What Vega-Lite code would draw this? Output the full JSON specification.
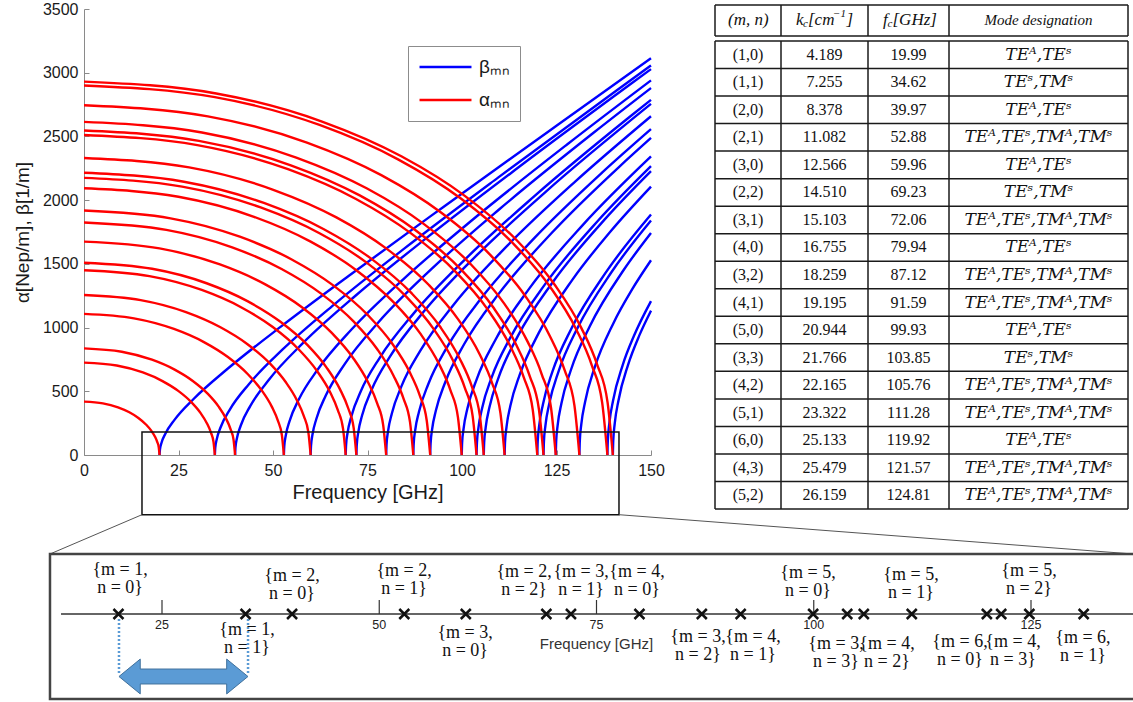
{
  "$schema": "https://vega.github.io/schema/vega-lite/v6.json",
  "width": 567,
  "height": 446,
  "autosize": {"type": "none"},
  "padding": {"left": 84, "top": 9, "right": 482, "bottom": 247},
  "background": "white",
  "config": {
    "view": {"stroke": null},
    "font": "Liberation Sans",
    "axis": {"labelFont": "Liberation Sans", "titleFont": "Liberation Sans", "labelFontSize": 16, "titleFontWeight": "normal", "labelColor": "#1a1a1a", "titleColor": "#1a1a1a", "domainColor": "#8a8a8a", "tickColor": "#8a8a8a", "grid": false, "labelFlush": false, "labelOverlap": false, "tickSize": -5, "format": "d"},
    "axisX": {"labelPadding": 12, "titleFontSize": 20, "titlePadding": 4},
    "axisY": {"labelPadding": 11, "titleFontSize": 19, "titlePadding": 10}
  },
  "datasets": {
    "curves": [
      {"m":"A","k":"b","f":19.99,"v":0},{"m":"A","k":"b","f":20.09,"v":41.9},{"m":"A","k":"b","f":20.49,"v":94.2},{"m":"A","k":"b","f":21.49,"v":165.2},{"m":"A","k":"b","f":23.99,"v":277.8},{"m":"A","k":"b","f":28.99,"v":439.7},{"m":"A","k":"b","f":37.99,"v":676.6},{"m":"A","k":"b","f":51.99,"v":1005.2},{"m":"A","k":"b","f":69.99,"v":1404.8},{"m":"A","k":"b","f":94.99,"v":1944.9},{"m":"A","k":"b","f":124.99,"v":2584.1},{"m":"A","k":"b","f":150,"v":3113.5},
      {"m":"B","k":"b","f":34.62,"v":0},{"m":"B","k":"b","f":34.72,"v":55.2},{"m":"B","k":"b","f":35.12,"v":123.7},{"m":"B","k":"b","f":36.12,"v":215.7},{"m":"B","k":"b","f":38.62,"v":358.5},{"m":"B","k":"b","f":43.62,"v":555.8},{"m":"B","k":"b","f":52.62,"v":830.0},{"m":"B","k":"b","f":66.62,"v":1192.1},{"m":"B","k":"b","f":84.62,"v":1617.2},{"m":"B","k":"b","f":109.62,"v":2178.4},{"m":"B","k":"b","f":139.62,"v":2832.9},{"m":"B","k":"b","f":150,"v":3056.8},
      {"m":"C","k":"b","f":39.97,"v":0},{"m":"C","k":"b","f":40.07,"v":59.3},{"m":"C","k":"b","f":40.47,"v":132.8},{"m":"C","k":"b","f":41.47,"v":231.5},{"m":"C","k":"b","f":43.97,"v":383.8},{"m":"C","k":"b","f":48.97,"v":592.6},{"m":"C","k":"b","f":57.97,"v":879.4},{"m":"C","k":"b","f":71.97,"v":1253.5},{"m":"C","k":"b","f":89.97,"v":1688.2},{"m":"C","k":"b","f":114.97,"v":2257.8},{"m":"C","k":"b","f":144.97,"v":2918.6},{"m":"C","k":"b","f":150,"v":3028.1},
      {"m":"D","k":"b","f":52.88,"v":0},{"m":"D","k":"b","f":52.98,"v":68.1},{"m":"D","k":"b","f":53.38,"v":152.7},{"m":"D","k":"b","f":54.38,"v":265.7},{"m":"D","k":"b","f":56.88,"v":438.8},{"m":"D","k":"b","f":61.88,"v":673.1},{"m":"D","k":"b","f":70.88,"v":988.5},{"m":"D","k":"b","f":84.88,"v":1390.6},{"m":"D","k":"b","f":102.88,"v":1848.3},{"m":"D","k":"b","f":127.88,"v":2438.6},{"m":"D","k":"b","f":150,"v":2939.9},
      {"m":"E","k":"b","f":59.96,"v":0},{"m":"E","k":"b","f":60.06,"v":72.6},{"m":"E","k":"b","f":60.46,"v":162.5},{"m":"E","k":"b","f":61.46,"v":282.7},{"m":"E","k":"b","f":63.96,"v":466.3},{"m":"E","k":"b","f":68.96,"v":713.4},{"m":"E","k":"b","f":77.96,"v":1043.6},{"m":"E","k":"b","f":91.96,"v":1460.3},{"m":"E","k":"b","f":109.96,"v":1930.5},{"m":"E","k":"b","f":134.96,"v":2532.3},{"m":"E","k":"b","f":150,"v":2879.6},
      {"m":"F","k":"b","f":69.23,"v":0},{"m":"F","k":"b","f":69.33,"v":78.0},{"m":"F","k":"b","f":69.73,"v":174.6},{"m":"F","k":"b","f":70.73,"v":303.5},{"m":"F","k":"b","f":73.23,"v":500.0},{"m":"F","k":"b","f":78.23,"v":763.0},{"m":"F","k":"b","f":87.23,"v":1111.5},{"m":"F","k":"b","f":101.23,"v":1546.8},{"m":"F","k":"b","f":119.23,"v":2033.1},{"m":"F","k":"b","f":144.23,"v":2650.1},{"m":"F","k":"b","f":150,"v":2787.0},
      {"m":"G","k":"b","f":72.06,"v":0},{"m":"G","k":"b","f":72.16,"v":79.5},{"m":"G","k":"b","f":72.56,"v":178.1},{"m":"G","k":"b","f":73.56,"v":309.5},{"m":"G","k":"b","f":76.06,"v":509.8},{"m":"G","k":"b","f":81.06,"v":777.5},{"m":"G","k":"b","f":90.06,"v":1131.4},{"m":"G","k":"b","f":104.06,"v":1572.3},{"m":"G","k":"b","f":122.06,"v":2063.4},{"m":"G","k":"b","f":150,"v":2755.4},
      {"m":"H","k":"b","f":79.94,"v":0},{"m":"H","k":"b","f":80.04,"v":83.8},{"m":"H","k":"b","f":80.44,"v":187.5},{"m":"H","k":"b","f":81.44,"v":325.9},{"m":"H","k":"b","f":83.94,"v":536.2},{"m":"H","k":"b","f":88.94,"v":816.5},{"m":"H","k":"b","f":97.94,"v":1185.1},{"m":"H","k":"b","f":111.94,"v":1641.2},{"m":"H","k":"b","f":129.94,"v":2145.5},{"m":"H","k":"b","f":150,"v":2658.3},
      {"m":"I","k":"b","f":87.12,"v":0},{"m":"I","k":"b","f":87.22,"v":87.4},{"m":"I","k":"b","f":87.62,"v":195.8},{"m":"I","k":"b","f":88.62,"v":340.1},{"m":"I","k":"b","f":91.12,"v":559.2},{"m":"I","k":"b","f":96.12,"v":850.5},{"m":"I","k":"b","f":105.12,"v":1232.0},{"m":"I","k":"b","f":119.12,"v":1701.5},{"m":"I","k":"b","f":137.12,"v":2217.7},{"m":"I","k":"b","f":150,"v":2557.4},
      {"m":"J","k":"b","f":91.59,"v":0},{"m":"J","k":"b","f":91.69,"v":89.7},{"m":"J","k":"b","f":92.09,"v":200.7},{"m":"J","k":"b","f":93.09,"v":348.6},{"m":"J","k":"b","f":95.59,"v":573.1},{"m":"J","k":"b","f":100.59,"v":871.0},{"m":"J","k":"b","f":109.59,"v":1260.3},{"m":"J","k":"b","f":123.59,"v":1738.0},{"m":"J","k":"b","f":141.59,"v":2261.5},{"m":"J","k":"b","f":150,"v":2488.0},
      {"m":"K","k":"b","f":99.93,"v":0},{"m":"K","k":"b","f":100.03,"v":93.7},{"m":"K","k":"b","f":100.43,"v":209.6},{"m":"K","k":"b","f":101.43,"v":364.0},{"m":"K","k":"b","f":103.93,"v":598.1},{"m":"K","k":"b","f":108.93,"v":908.1},{"m":"K","k":"b","f":117.93,"v":1311.6},{"m":"K","k":"b","f":131.93,"v":1804.0},{"m":"K","k":"b","f":150,"v":2343.0},
      {"m":"L","k":"b","f":103.85,"v":0},{"m":"L","k":"b","f":103.95,"v":95.5},{"m":"L","k":"b","f":104.35,"v":213.7},{"m":"L","k":"b","f":105.35,"v":371.0},{"m":"L","k":"b","f":107.85,"v":609.5},{"m":"L","k":"b","f":112.85,"v":924.9},{"m":"L","k":"b","f":121.85,"v":1334.9},{"m":"L","k":"b","f":135.85,"v":1834.3},{"m":"L","k":"b","f":150,"v":2267.0},
      {"m":"M","k":"b","f":105.76,"v":0},{"m":"M","k":"b","f":105.86,"v":96.3},{"m":"M","k":"b","f":106.26,"v":215.6},{"m":"M","k":"b","f":107.26,"v":374.4},{"m":"M","k":"b","f":109.76,"v":614.9},{"m":"M","k":"b","f":114.76,"v":933.1},{"m":"M","k":"b","f":123.76,"v":1346.2},{"m":"M","k":"b","f":137.76,"v":1848.8},{"m":"M","k":"b","f":150,"v":2227.8},
      {"m":"N","k":"b","f":111.28,"v":0},{"m":"N","k":"b","f":111.38,"v":98.8},{"m":"N","k":"b","f":111.78,"v":221.2},{"m":"N","k":"b","f":112.78,"v":384.0},{"m":"N","k":"b","f":115.28,"v":630.5},{"m":"N","k":"b","f":120.28,"v":956.1},{"m":"N","k":"b","f":129.28,"v":1378.2},{"m":"N","k":"b","f":139.28,"v":1754.3},{"m":"N","k":"b","f":150,"v":2106.6},
      {"m":"O","k":"b","f":119.92,"v":0},{"m":"O","k":"b","f":120.02,"v":102.6},{"m":"O","k":"b","f":120.42,"v":229.6},{"m":"O","k":"b","f":121.42,"v":398.5},{"m":"O","k":"b","f":123.92,"v":654.1},{"m":"O","k":"b","f":128.92,"v":991.2},{"m":"O","k":"b","f":137.92,"v":1426.8},{"m":"O","k":"b","f":150,"v":1887.2},
      {"m":"P","k":"b","f":121.57,"v":0},{"m":"P","k":"b","f":121.67,"v":103.3},{"m":"P","k":"b","f":122.07,"v":231.2},{"m":"P","k":"b","f":123.07,"v":401.2},{"m":"P","k":"b","f":125.57,"v":658.5},{"m":"P","k":"b","f":130.57,"v":997.7},{"m":"P","k":"b","f":139.57,"v":1435.9},{"m":"P","k":"b","f":150,"v":1840.3},
      {"m":"Q","k":"b","f":124.81,"v":0},{"m":"Q","k":"b","f":124.91,"v":104.7},{"m":"Q","k":"b","f":125.31,"v":234.2},{"m":"Q","k":"b","f":126.31,"v":406.5},{"m":"Q","k":"b","f":128.81,"v":667.1},{"m":"Q","k":"b","f":133.81,"v":1010.4},{"m":"Q","k":"b","f":142.81,"v":1453.6},{"m":"Q","k":"b","f":150,"v":1742.6},
      {"m":"R","k":"b","f":131.06,"v":0},{"m":"R","k":"b","f":131.16,"v":107.3},{"m":"R","k":"b","f":131.56,"v":240.0},{"m":"R","k":"b","f":132.56,"v":416.5},{"m":"R","k":"b","f":135.06,"v":683.3},{"m":"R","k":"b","f":140.06,"v":1034.6},{"m":"R","k":"b","f":145.0,"v":1299.3},{"m":"R","k":"b","f":150,"v":1528.1},
      {"m":"S","k":"b","f":138.47,"v":0},{"m":"S","k":"b","f":138.57,"v":110.2},{"m":"S","k":"b","f":138.97,"v":246.7},{"m":"S","k":"b","f":139.97,"v":428.0},{"m":"S","k":"b","f":142.47,"v":702.1},{"m":"S","k":"b","f":145.47,"v":933.7},{"m":"S","k":"b","f":150,"v":1207.9},
      {"m":"T","k":"b","f":139.91,"v":0},{"m":"T","k":"b","f":140.01,"v":110.8},{"m":"T","k":"b","f":140.41,"v":248.0},{"m":"T","k":"b","f":141.41,"v":430.2},{"m":"T","k":"b","f":143.91,"v":705.7},{"m":"T","k":"b","f":146.91,"v":938.5},{"m":"T","k":"b","f":150,"v":1132.7},
      {"m":"A","k":"a","f":0,"v":418.7},{"m":"A","k":"a","f":5.00,"v":405.4},{"m":"A","k":"a","f":9.00,"v":373.9},{"m":"A","k":"a","f":11.99,"v":335.0},{"m":"A","k":"a","f":14.39,"v":290.6},{"m":"A","k":"a","f":16.39,"v":239.6},{"m":"A","k":"a","f":17.79,"v":190.9},{"m":"A","k":"a","f":18.79,"v":142.8},{"m":"A","k":"a","f":19.39,"v":101.8},{"m":"A","k":"a","f":19.79,"v":59.1},{"m":"A","k":"a","f":19.99,"v":0},
      {"m":"B","k":"a","f":0,"v":725.1},{"m":"B","k":"a","f":8.66,"v":702.1},{"m":"B","k":"a","f":15.58,"v":647.5},{"m":"B","k":"a","f":20.77,"v":580.1},{"m":"B","k":"a","f":24.93,"v":503.2},{"m":"B","k":"a","f":28.39,"v":415.0},{"m":"B","k":"a","f":30.81,"v":330.6},{"m":"B","k":"a","f":32.54,"v":247.4},{"m":"B","k":"a","f":33.58,"v":176.3},{"m":"B","k":"a","f":34.27,"v":102.3},{"m":"B","k":"a","f":34.62,"v":0},
      {"m":"C","k":"a","f":0,"v":837.1},{"m":"C","k":"a","f":9.99,"v":810.5},{"m":"C","k":"a","f":17.99,"v":747.6},{"m":"C","k":"a","f":23.98,"v":669.7},{"m":"C","k":"a","f":28.78,"v":580.9},{"m":"C","k":"a","f":32.78,"v":479.1},{"m":"C","k":"a","f":35.57,"v":381.7},{"m":"C","k":"a","f":37.57,"v":285.6},{"m":"C","k":"a","f":38.77,"v":203.5},{"m":"C","k":"a","f":39.57,"v":118.1},{"m":"C","k":"a","f":39.97,"v":0},
      {"m":"D","k":"a","f":0,"v":1107.5},{"m":"D","k":"a","f":13.22,"v":1072.3},{"m":"D","k":"a","f":23.80,"v":989.0},{"m":"D","k":"a","f":31.73,"v":886.0},{"m":"D","k":"a","f":38.07,"v":768.6},{"m":"D","k":"a","f":43.36,"v":633.9},{"m":"D","k":"a","f":47.06,"v":505.0},{"m":"D","k":"a","f":49.71,"v":377.8},{"m":"D","k":"a","f":51.29,"v":269.2},{"m":"D","k":"a","f":52.35,"v":156.2},{"m":"D","k":"a","f":52.88,"v":0},
      {"m":"E","k":"a","f":0,"v":1255.8},{"m":"E","k":"a","f":14.99,"v":1215.9},{"m":"E","k":"a","f":26.98,"v":1121.5},{"m":"E","k":"a","f":35.98,"v":1004.6},{"m":"E","k":"a","f":43.17,"v":871.5},{"m":"E","k":"a","f":49.17,"v":718.8},{"m":"E","k":"a","f":53.36,"v":572.6},{"m":"E","k":"a","f":56.36,"v":428.4},{"m":"E","k":"a","f":58.16,"v":305.3},{"m":"E","k":"a","f":59.36,"v":177.2},{"m":"E","k":"a","f":59.96,"v":0},
      {"m":"F","k":"a","f":0,"v":1450.0},{"m":"F","k":"a","f":17.31,"v":1404.0},{"m":"F","k":"a","f":31.15,"v":1294.9},{"m":"F","k":"a","f":41.54,"v":1160.0},{"m":"F","k":"a","f":49.85,"v":1006.3},{"m":"F","k":"a","f":56.77,"v":829.9},{"m":"F","k":"a","f":61.61,"v":661.1},{"m":"F","k":"a","f":65.08,"v":494.7},{"m":"F","k":"a","f":67.15,"v":352.5},{"m":"F","k":"a","f":68.54,"v":204.6},{"m":"F","k":"a","f":69.23,"v":0},
      {"m":"G","k":"a","f":0,"v":1509.2},{"m":"G","k":"a","f":18.02,"v":1461.3},{"m":"G","k":"a","f":32.43,"v":1347.8},{"m":"G","k":"a","f":43.24,"v":1207.4},{"m":"G","k":"a","f":51.88,"v":1047.3},{"m":"G","k":"a","f":59.09,"v":863.8},{"m":"G","k":"a","f":64.13,"v":688.1},{"m":"G","k":"a","f":67.74,"v":514.9},{"m":"G","k":"a","f":69.90,"v":366.9},{"m":"G","k":"a","f":71.34,"v":212.9},{"m":"G","k":"a","f":72.06,"v":0},
      {"m":"H","k":"a","f":0,"v":1674.3},{"m":"H","k":"a","f":19.99,"v":1621.1},{"m":"H","k":"a","f":35.97,"v":1495.2},{"m":"H","k":"a","f":47.96,"v":1339.4},{"m":"H","k":"a","f":57.56,"v":1161.9},{"m":"H","k":"a","f":65.55,"v":958.3},{"m":"H","k":"a","f":71.15,"v":763.4},{"m":"H","k":"a","f":75.14,"v":571.2},{"m":"H","k":"a","f":77.54,"v":407.0},{"m":"H","k":"a","f":79.14,"v":236.2},{"m":"H","k":"a","f":79.94,"v":0},
      {"m":"I","k":"a","f":0,"v":1824.6},{"m":"I","k":"a","f":21.78,"v":1766.7},{"m":"I","k":"a","f":39.20,"v":1629.4},{"m":"I","k":"a","f":52.27,"v":1459.7},{"m":"I","k":"a","f":62.73,"v":1266.2},{"m":"I","k":"a","f":71.44,"v":1044.3},{"m":"I","k":"a","f":77.54,"v":831.9},{"m":"I","k":"a","f":81.89,"v":622.5},{"m":"I","k":"a","f":84.51,"v":443.6},{"m":"I","k":"a","f":86.25,"v":257.4},{"m":"I","k":"a","f":87.12,"v":0},
      {"m":"J","k":"a","f":0,"v":1918.3},{"m":"J","k":"a","f":22.90,"v":1857.4},{"m":"J","k":"a","f":41.22,"v":1713.1},{"m":"J","k":"a","f":54.95,"v":1534.6},{"m":"J","k":"a","f":65.94,"v":1331.2},{"m":"J","k":"a","f":75.10,"v":1097.9},{"m":"J","k":"a","f":81.52,"v":874.7},{"m":"J","k":"a","f":86.09,"v":654.5},{"m":"J","k":"a","f":88.84,"v":466.3},{"m":"J","k":"a","f":90.67,"v":270.6},{"m":"J","k":"a","f":91.59,"v":0},
      {"m":"K","k":"a","f":0,"v":2092.9},{"m":"K","k":"a","f":24.98,"v":2026.4},{"m":"K","k":"a","f":44.97,"v":1869.0},{"m":"K","k":"a","f":59.96,"v":1674.3},{"m":"K","k":"a","f":71.95,"v":1452.4},{"m":"K","k":"a","f":81.94,"v":1197.9},{"m":"K","k":"a","f":88.94,"v":954.3},{"m":"K","k":"a","f":93.93,"v":714.0},{"m":"K","k":"a","f":96.93,"v":508.8},{"m":"K","k":"a","f":98.93,"v":295.2},{"m":"K","k":"a","f":99.93,"v":0},
      {"m":"L","k":"a","f":0,"v":2175.0},{"m":"L","k":"a","f":25.96,"v":2105.9},{"m":"L","k":"a","f":46.73,"v":1942.3},{"m":"L","k":"a","f":62.31,"v":1740.0},{"m":"L","k":"a","f":74.77,"v":1509.4},{"m":"L","k":"a","f":85.16,"v":1244.9},{"m":"L","k":"a","f":92.43,"v":991.7},{"m":"L","k":"a","f":97.62,"v":742.0},{"m":"L","k":"a","f":100.73,"v":528.7},{"m":"L","k":"a","f":102.81,"v":306.8},{"m":"L","k":"a","f":103.85,"v":0},
      {"m":"M","k":"a","f":0,"v":2215.0},{"m":"M","k":"a","f":26.44,"v":2144.7},{"m":"M","k":"a","f":47.59,"v":1978.1},{"m":"M","k":"a","f":63.46,"v":1772.0},{"m":"M","k":"a","f":76.15,"v":1537.1},{"m":"M","k":"a","f":86.72,"v":1267.8},{"m":"M","k":"a","f":94.13,"v":1009.9},{"m":"M","k":"a","f":99.41,"v":755.7},{"m":"M","k":"a","f":102.59,"v":538.5},{"m":"M","k":"a","f":104.70,"v":312.5},{"m":"M","k":"a","f":105.76,"v":0},
      {"m":"N","k":"a","f":0,"v":2330.7},{"m":"N","k":"a","f":27.82,"v":2256.7},{"m":"N","k":"a","f":50.08,"v":2081.4},{"m":"N","k":"a","f":66.77,"v":1864.6},{"m":"N","k":"a","f":80.12,"v":1617.4},{"m":"N","k":"a","f":91.25,"v":1334.0},{"m":"N","k":"a","f":99.04,"v":1062.7},{"m":"N","k":"a","f":104.60,"v":795.2},{"m":"N","k":"a","f":107.94,"v":566.6},{"m":"N","k":"a","f":110.17,"v":328.8},{"m":"N","k":"a","f":111.28,"v":0},
      {"m":"O","k":"a","f":0,"v":2511.6},{"m":"O","k":"a","f":29.98,"v":2431.9},{"m":"O","k":"a","f":53.96,"v":2242.9},{"m":"O","k":"a","f":71.95,"v":2009.3},{"m":"O","k":"a","f":86.34,"v":1743.0},{"m":"O","k":"a","f":98.33,"v":1437.5},{"m":"O","k":"a","f":106.73,"v":1145.2},{"m":"O","k":"a","f":112.72,"v":856.9},{"m":"O","k":"a","f":116.32,"v":610.6},{"m":"O","k":"a","f":118.72,"v":354.3},{"m":"O","k":"a","f":119.92,"v":0},
      {"m":"P","k":"a","f":0,"v":2546.2},{"m":"P","k":"a","f":30.39,"v":2465.3},{"m":"P","k":"a","f":54.71,"v":2273.8},{"m":"P","k":"a","f":72.94,"v":2037.0},{"m":"P","k":"a","f":87.53,"v":1767.0},{"m":"P","k":"a","f":99.69,"v":1457.3},{"m":"P","k":"a","f":108.20,"v":1161.0},{"m":"P","k":"a","f":114.28,"v":868.7},{"m":"P","k":"a","f":117.92,"v":619.0},{"m":"P","k":"a","f":120.35,"v":359.2},{"m":"P","k":"a","f":121.57,"v":0},
      {"m":"Q","k":"a","f":0,"v":2614.0},{"m":"Q","k":"a","f":31.20,"v":2531.0},{"m":"Q","k":"a","f":56.16,"v":2334.4},{"m":"Q","k":"a","f":74.89,"v":2091.2},{"m":"Q","k":"a","f":89.86,"v":1814.0},{"m":"Q","k":"a","f":102.34,"v":1496.1},{"m":"Q","k":"a","f":111.08,"v":1191.9},{"m":"Q","k":"a","f":117.32,"v":891.8},{"m":"Q","k":"a","f":121.07,"v":635.5},{"m":"Q","k":"a","f":123.56,"v":368.8},{"m":"Q","k":"a","f":124.81,"v":0},
      {"m":"R","k":"a","f":0,"v":2744.9},{"m":"R","k":"a","f":32.77,"v":2657.8},{"m":"R","k":"a","f":58.98,"v":2451.3},{"m":"R","k":"a","f":78.64,"v":2195.9},{"m":"R","k":"a","f":94.36,"v":1904.9},{"m":"R","k":"a","f":107.47,"v":1571.1},{"m":"R","k":"a","f":116.64,"v":1251.6},{"m":"R","k":"a","f":123.20,"v":936.5},{"m":"R","k":"a","f":127.13,"v":667.3},{"m":"R","k":"a","f":129.75,"v":387.2},{"m":"R","k":"a","f":131.06,"v":0},
      {"m":"S","k":"a","f":0,"v":2900.1},{"m":"S","k":"a","f":34.62,"v":2808.0},{"m":"S","k":"a","f":62.31,"v":2589.9},{"m":"S","k":"a","f":83.08,"v":2320.1},{"m":"S","k":"a","f":99.70,"v":2012.6},{"m":"S","k":"a","f":113.55,"v":1659.9},{"m":"S","k":"a","f":123.24,"v":1322.3},{"m":"S","k":"a","f":130.16,"v":989.4},{"m":"S","k":"a","f":134.32,"v":705.0},{"m":"S","k":"a","f":137.09,"v":409.1},{"m":"S","k":"a","f":138.47,"v":0},
      {"m":"T","k":"a","f":0,"v":2930.3},{"m":"T","k":"a","f":34.98,"v":2837.3},{"m":"T","k":"a","f":62.96,"v":2616.8},{"m":"T","k":"a","f":83.95,"v":2344.2},{"m":"T","k":"a","f":100.74,"v":2033.5},{"m":"T","k":"a","f":114.73,"v":1677.2},{"m":"T","k":"a","f":124.52,"v":1336.1},{"m":"T","k":"a","f":131.52,"v":999.7},{"m":"T","k":"a","f":135.71,"v":712.4},{"m":"T","k":"a","f":138.51,"v":413.4},{"m":"T","k":"a","f":139.91,"v":0}
    ],
    "table": [
      {"y":0.5,"mn":"(1,0)","kc":"4.189","fc":"19.99","md":"TEᴬ,TEˢ"},
      {"y":1.5,"mn":"(1,1)","kc":"7.255","fc":"34.62","md":"TEˢ,TMˢ"},
      {"y":2.5,"mn":"(2,0)","kc":"8.378","fc":"39.97","md":"TEᴬ,TEˢ"},
      {"y":3.5,"mn":"(2,1)","kc":"11.082","fc":"52.88","md":"TEᴬ,TEˢ,TMᴬ,TMˢ"},
      {"y":4.5,"mn":"(3,0)","kc":"12.566","fc":"59.96","md":"TEᴬ,TEˢ"},
      {"y":5.5,"mn":"(2,2)","kc":"14.510","fc":"69.23","md":"TEˢ,TMˢ"},
      {"y":6.5,"mn":"(3,1)","kc":"15.103","fc":"72.06","md":"TEᴬ,TEˢ,TMᴬ,TMˢ"},
      {"y":7.5,"mn":"(4,0)","kc":"16.755","fc":"79.94","md":"TEᴬ,TEˢ"},
      {"y":8.5,"mn":"(3,2)","kc":"18.259","fc":"87.12","md":"TEᴬ,TEˢ,TMᴬ,TMˢ"},
      {"y":9.5,"mn":"(4,1)","kc":"19.195","fc":"91.59","md":"TEᴬ,TEˢ,TMᴬ,TMˢ"},
      {"y":10.5,"mn":"(5,0)","kc":"20.944","fc":"99.93","md":"TEᴬ,TEˢ"},
      {"y":11.5,"mn":"(3,3)","kc":"21.766","fc":"103.85","md":"TEˢ,TMˢ"},
      {"y":12.5,"mn":"(4,2)","kc":"22.165","fc":"105.76","md":"TEᴬ,TEˢ,TMᴬ,TMˢ"},
      {"y":13.5,"mn":"(5,1)","kc":"23.322","fc":"111.28","md":"TEᴬ,TEˢ,TMᴬ,TMˢ"},
      {"y":14.5,"mn":"(6,0)","kc":"25.133","fc":"119.92","md":"TEᴬ,TEˢ"},
      {"y":15.5,"mn":"(4,3)","kc":"25.479","fc":"121.57","md":"TEᴬ,TEˢ,TMᴬ,TMˢ"},
      {"y":16.5,"mn":"(5,2)","kc":"26.159","fc":"124.81","md":"TEᴬ,TEˢ,TMᴬ,TMˢ"}
    ]
  },
  "layer": [
    {
      "data": {"name": "curves"},
      "layer": [
        {
          "transform": [{"filter": "datum.k == 'b'"}],
          "mark": {"type": "line", "strokeWidth": 2.4, "interpolate": "monotone"},
          "encoding": {
            "x": {"field": "f", "type": "quantitative", "title": "Frequency [GHz]", "scale": {"domain": [0, 150], "nice": false, "zero": false}, "axis": {"values": [0, 25, 50, 75, 100, 125, 150]}},
            "y": {"field": "v", "type": "quantitative", "title": "α[Nep/m], β[1/m]", "scale": {"domain": [0, 3500], "nice": false}, "axis": {"values": [0, 500, 1000, 1500, 2000, 2500, 3000, 3500]}},
            "color": {"field": "k", "type": "nominal", "scale": {"domain": ["b", "a"], "range": ["#0000ff", "#ff0000"]},
              "legend": {"orient": "none", "legendX": 324, "legendY": 37, "title": null, "symbolType": "stroke", "symbolSize": 2700, "symbolStrokeWidth": 2.5, "labelFontSize": 19, "labelFont": "Liberation Sans", "labelColor": "#1a1a1a", "labelExpr": "datum.value == 'b' ? 'βₘₙ' : 'αₘₙ'", "strokeColor": "#8c8c8c", "fillColor": "white", "padding": 10, "rowPadding": 11, "labelOffset": 6, "clipHeight": 22}},
            "detail": {"field": "m"}
          }
        },
        {
          "transform": [{"filter": "datum.k == 'a'"}],
          "mark": {"type": "line", "strokeWidth": 2.4, "interpolate": "monotone"},
          "encoding": {
            "x": {"field": "f", "type": "quantitative", "title": "Frequency [GHz]"},
            "y": {"field": "v", "type": "quantitative", "title": "α[Nep/m], β[1/m]"},
            "color": {"field": "k", "type": "nominal"},
            "detail": {"field": "m"}
          }
        },
        {
          "data": {"values": [{"f": 15.34, "f2": 141.53, "v": 180.5, "v2": -468.5}]},
          "mark": {"type": "rect", "fillOpacity": 0, "stroke": "#111111", "strokeWidth": 1.5, "clip": false},
          "encoding": {
            "x": {"field": "f", "type": "quantitative", "title": "Frequency [GHz]"},
            "x2": {"field": "f2"},
            "y": {"field": "v", "type": "quantitative", "title": "α[Nep/m], β[1/m]"},
            "y2": {"field": "v2"}
          }
        },
        {
          "data": {"values": [{"f": 15.34, "v": -468.5, "f2": -8.99, "v2": -776.9}, {"f": 141.53, "v": -468.5, "f2": 277.5, "v2": -776.9}]},
          "mark": {"type": "rule", "color": "#555555", "strokeWidth": 1, "clip": false},
          "encoding": {
            "x": {"field": "f", "type": "quantitative", "title": "Frequency [GHz]"},
            "x2": {"field": "f2"},
            "y": {"field": "v", "type": "quantitative", "title": "α[Nep/m], β[1/m]"},
            "y2": {"field": "v2"}
          }
        }
      ]
    },
    {
      "layer": [
        {
          "data": {"values": [
            {"x": 0, "x2": 413, "y": -1.308}, {"x": 0, "x2": 413, "y": -0.182},
            {"x": 0, "x2": 413, "y": 0}, {"x": 0, "x2": 413, "y": 1}, {"x": 0, "x2": 413, "y": 2}, {"x": 0, "x2": 413, "y": 3}, {"x": 0, "x2": 413, "y": 4}, {"x": 0, "x2": 413, "y": 5}, {"x": 0, "x2": 413, "y": 6}, {"x": 0, "x2": 413, "y": 7}, {"x": 0, "x2": 413, "y": 8}, {"x": 0, "x2": 413, "y": 9}, {"x": 0, "x2": 413, "y": 10}, {"x": 0, "x2": 413, "y": 11}, {"x": 0, "x2": 413, "y": 12}, {"x": 0, "x2": 413, "y": 13}, {"x": 0, "x2": 413, "y": 14}, {"x": 0, "x2": 413, "y": 15}, {"x": 0, "x2": 413, "y": 16}, {"x": 0, "x2": 413, "y": 17}
          ]},
          "mark": {"type": "rule", "color": "#1a1a1a", "strokeWidth": 1.5},
          "encoding": {
            "x": {"field": "x", "type": "quantitative", "scale": {"domain": [0, 413], "range": [631, 1044], "nice": false, "zero": false}, "axis": null},
            "x2": {"field": "x2"},
            "y": {"field": "y", "type": "quantitative", "scale": {"domain": [-1.308, 17], "range": [-4, 500], "nice": false, "zero": false}, "axis": null}
          }
        },
        {
          "data": {"values": [
            {"x": 0, "y": -1.308, "y2": -0.182}, {"x": 66, "y": -1.308, "y2": -0.182}, {"x": 153, "y": -1.308, "y2": -0.182}, {"x": 234, "y": -1.308, "y2": -0.182}, {"x": 413, "y": -1.308, "y2": -0.182},
            {"x": 0, "y": 0, "y2": 17}, {"x": 66, "y": 0, "y2": 17}, {"x": 153, "y": 0, "y2": 17}, {"x": 234, "y": 0, "y2": 17}, {"x": 413, "y": 0, "y2": 17}
          ]},
          "mark": {"type": "rule", "color": "#1a1a1a", "strokeWidth": 1.5},
          "encoding": {
            "x": {"field": "x", "type": "quantitative", "axis": null},
            "y": {"field": "y", "type": "quantitative", "axis": null},
            "y2": {"field": "y2"}
          }
        },
        {
          "data": {"name": "table"},
          "mark": {"type": "text", "font": "Liberation Serif", "fontSize": 16, "align": "center", "baseline": "middle", "color": "#111111"},
          "encoding": {"x": {"datum": 33, "type": "quantitative", "axis": null}, "y": {"field": "y", "type": "quantitative", "axis": null}, "text": {"field": "mn"}}
        },
        {
          "data": {"name": "table"},
          "mark": {"type": "text", "font": "Liberation Serif", "fontSize": 16, "align": "center", "baseline": "middle", "color": "#111111"},
          "encoding": {"x": {"datum": 109.5, "type": "quantitative", "axis": null}, "y": {"field": "y", "type": "quantitative", "axis": null}, "text": {"field": "kc"}}
        },
        {
          "data": {"name": "table"},
          "mark": {"type": "text", "font": "Liberation Serif", "fontSize": 16, "align": "center", "baseline": "middle", "color": "#111111"},
          "encoding": {"x": {"datum": 193.5, "type": "quantitative", "axis": null}, "y": {"field": "y", "type": "quantitative", "axis": null}, "text": {"field": "fc"}}
        },
        {
          "data": {"name": "table"},
          "mark": {"type": "text", "font": "DejaVu Serif", "fontSize": 17, "fontStyle": "italic", "align": "center", "baseline": "middle", "color": "#111111"},
          "encoding": {"x": {"datum": 323.5, "type": "quantitative", "axis": null}, "y": {"field": "y", "type": "quantitative", "axis": null}, "text": {"field": "md"}}
        },
        {
          "data": {"values": [
            {"x": 13, "y": -0.745, "t": "(m, n)"}, {"x": 81, "y": -0.745, "t": "k"}, {"x": 93, "y": -0.745, "t": "[cm"}, {"x": 131.5, "y": -0.745, "t": "]"},
            {"x": 168, "y": -0.745, "t": "f"}, {"x": 177.5, "y": -0.745, "t": "[GHz]"}
          ]},
          "mark": {"type": "text", "font": "Liberation Serif", "fontSize": 17, "fontStyle": "italic", "align": "left", "baseline": "middle", "color": "#111111"},
          "encoding": {"x": {"field": "x", "type": "quantitative", "axis": null}, "y": {"field": "y", "type": "quantitative", "axis": null}, "text": {"field": "t"}}
        },
        {
          "data": {"values": [{"x": 269.5, "y": -0.745, "t": "Mode designation"}]},
          "mark": {"type": "text", "font": "Liberation Serif", "fontSize": 15, "fontStyle": "italic", "align": "left", "baseline": "middle", "color": "#111111"},
          "encoding": {"x": {"field": "x", "type": "quantitative", "axis": null}, "y": {"field": "y", "type": "quantitative", "axis": null}, "text": {"field": "t"}}
        },
        {
          "data": {"values": [{"x": 88, "y": -0.745, "t": "c"}, {"x": 172.5, "y": -0.745, "t": "c"}]},
          "mark": {"type": "text", "font": "Liberation Serif", "fontSize": 11, "fontStyle": "italic", "align": "left", "baseline": "middle", "dy": 4, "color": "#111111"},
          "encoding": {"x": {"field": "x", "type": "quantitative", "axis": null}, "y": {"field": "y", "type": "quantitative", "axis": null}, "text": {"field": "t"}}
        },
        {
          "data": {"values": [{"x": 118, "y": -0.745, "t": "−1"}]},
          "mark": {"type": "text", "font": "Liberation Serif", "fontSize": 11, "fontStyle": "italic", "align": "left", "baseline": "middle", "dy": -6, "color": "#111111"},
          "encoding": {"x": {"field": "x", "type": "quantitative", "axis": null}, "y": {"field": "y", "type": "quantitative", "axis": null}, "text": {"field": "t"}}
        }
      ]
    },
    {
      "layer": [
        {
          "data": {"values": [{"f": 12.11, "f2": 137.6, "o": 60, "o2": -85}]},
          "mark": {"type": "rect", "fillOpacity": 0, "stroke": "#444444", "strokeWidth": 2.5},
          "encoding": {
            "x": {"field": "f", "type": "quantitative", "scale": {"domain": [0, 150], "range": [-139.25, 1164.25], "nice": false, "zero": false}, "axis": null},
            "x2": {"field": "f2"},
            "y": {"field": "o", "type": "quantitative", "scale": {"domain": [-100, 100], "range": [705, 505], "nice": false, "zero": false}, "axis": null},
            "y2": {"field": "o2"}
          }
        },
        {
          "data": {"values": [{"f": 13.38, "f2": 137.6, "o": 0}]},
          "mark": {"type": "rule", "color": "#333333", "strokeWidth": 1.3},
          "encoding": {"x": {"field": "f", "type": "quantitative", "axis": null}, "x2": {"field": "f2"}, "y": {"field": "o", "type": "quantitative", "axis": null}}
        },
        {
          "data": {"values": [{"f": 25, "o": 0, "o2": 14}, {"f": 50, "o": 0, "o2": 14}, {"f": 75, "o": 0, "o2": 14}, {"f": 100, "o": 0, "o2": 14}, {"f": 125, "o": 0, "o2": 14}]},
          "mark": {"type": "rule", "color": "#333333", "strokeWidth": 1.2},
          "encoding": {"x": {"field": "f", "type": "quantitative", "axis": null}, "y": {"field": "o", "type": "quantitative", "axis": null}, "y2": {"field": "o2"}}
        },
        {
          "data": {"values": [{"f": 25, "o": -11, "t": "25"}, {"f": 50, "o": -11, "t": "50"}, {"f": 75, "o": -11, "t": "75"}, {"f": 100, "o": -11, "t": "100"}, {"f": 125, "o": -11, "t": "125"}]},
          "mark": {"type": "text", "font": "Liberation Sans", "fontSize": 12.5, "align": "center", "baseline": "middle", "color": "#222222"},
          "encoding": {"x": {"field": "f", "type": "quantitative", "axis": null}, "y": {"field": "o", "type": "quantitative", "axis": null}, "text": {"field": "t"}}
        },
        {
          "data": {"values": [{"f": 75, "o": -30, "t": "Frequency [GHz]"}]},
          "mark": {"type": "text", "font": "Liberation Sans", "fontSize": 15, "align": "center", "baseline": "middle", "color": "#333333"},
          "encoding": {"x": {"field": "f", "type": "quantitative", "axis": null}, "y": {"field": "o", "type": "quantitative", "axis": null}, "text": {"field": "t"}}
        },
        {
          "data": {"values": [{"f": 20.05, "o": -5, "o2": -61}, {"f": 34.9, "o": -5, "o2": -61}]},
          "mark": {"type": "rule", "color": "#5b9bd5", "strokeWidth": 2.5, "strokeDash": [2, 2]},
          "encoding": {"x": {"field": "f", "type": "quantitative", "axis": null}, "y": {"field": "o", "type": "quantitative", "axis": null}, "y2": {"field": "o2"}}
        },
        {
          "data": {"values": [{"f": 27.47, "o": -62.5}]},
          "mark": {"type": "point", "shape": "M-1,0L-0.67,-0.27L-0.67,-0.116L0.67,-0.116L0.67,-0.27L1,0L0.67,0.27L0.67,0.116L-0.67,0.116L-0.67,0.27Z", "size": 16641, "filled": true, "fill": "#5b9bd5", "stroke": "#41719c", "strokeWidth": 1, "opacity": 1},
          "encoding": {"x": {"field": "f", "type": "quantitative", "axis": null}, "y": {"field": "o", "type": "quantitative", "axis": null}}
        },
        {
          "data": {"values": [
            {"f": 19.99, "o": 0}, {"f": 34.62, "o": 0}, {"f": 39.97, "o": 0}, {"f": 52.88, "o": 0}, {"f": 59.96, "o": 0}, {"f": 69.23, "o": 0}, {"f": 72.06, "o": 0}, {"f": 79.94, "o": 0}, {"f": 87.12, "o": 0}, {"f": 91.59, "o": 0}, {"f": 99.93, "o": 0}, {"f": 103.85, "o": 0}, {"f": 105.76, "o": 0}, {"f": 111.28, "o": 0}, {"f": 119.92, "o": 0}, {"f": 121.57, "o": 0}, {"f": 124.81, "o": 0}, {"f": 131.06, "o": 0}
          ]},
          "mark": {"type": "point", "shape": "M-1,-1L1,1M-1,1L1,-1", "size": 100, "filled": false, "stroke": "#111111", "strokeWidth": 2.5, "opacity": 1},
          "encoding": {"x": {"field": "f", "type": "quantitative", "axis": null}, "y": {"field": "o", "type": "quantitative", "axis": null}}
        },
        {
          "data": {"values": [
            {"f": 20.17, "o": 53, "t": "{m = 1,\nn = 0}"},
            {"f": 39.96, "o": 47, "t": "{m = 2,\nn = 0}"},
            {"f": 52.85, "o": 52, "t": "{m = 2,\nn = 1}"},
            {"f": 66.66, "o": 51, "t": "{m = 2,\nn = 2}"},
            {"f": 73.22, "o": 51, "t": "{m = 3,\nn = 1}"},
            {"f": 79.66, "o": 51, "t": "{m = 4,\nn = 0}"},
            {"f": 99.34, "o": 50, "t": "{m = 5,\nn = 0}"},
            {"f": 111.19, "o": 48, "t": "{m = 5,\nn = 1}"},
            {"f": 124.77, "o": 52, "t": "{m = 5,\nn = 2}"},
            {"f": 34.78, "o": -7, "t": "{m = 1,\nn = 1}"},
            {"f": 59.87, "o": -10, "t": "{m = 3,\nn = 0}"},
            {"f": 86.68, "o": -14, "t": "{m = 3,\nn = 2}"},
            {"f": 93.01, "o": -14, "t": "{m = 4,\nn = 1}"},
            {"f": 102.56, "o": -21, "t": "{m = 3,\nn = 3}"},
            {"f": 108.43, "o": -21, "t": "{m = 4,\nn = 2}"},
            {"f": 116.83, "o": -19, "t": "{m = 6,\nn = 0}"},
            {"f": 122.93, "o": -19, "t": "{m = 4,\nn = 3}"},
            {"f": 130.98, "o": -15, "t": "{m = 6,\nn = 1}"}
          ]},
          "mark": {"type": "text", "font": "Liberation Serif", "fontSize": 18, "align": "center", "baseline": "top", "lineBreak": "\n", "lineHeight": 18, "color": "#111111"},
          "encoding": {"x": {"field": "f", "type": "quantitative", "axis": null}, "y": {"field": "o", "type": "quantitative", "axis": null}, "text": {"field": "t"}}
        }
      ]
    }
  ],
  "resolve": {"scale": {"x": "independent", "y": "independent", "color": "independent"}}
}
